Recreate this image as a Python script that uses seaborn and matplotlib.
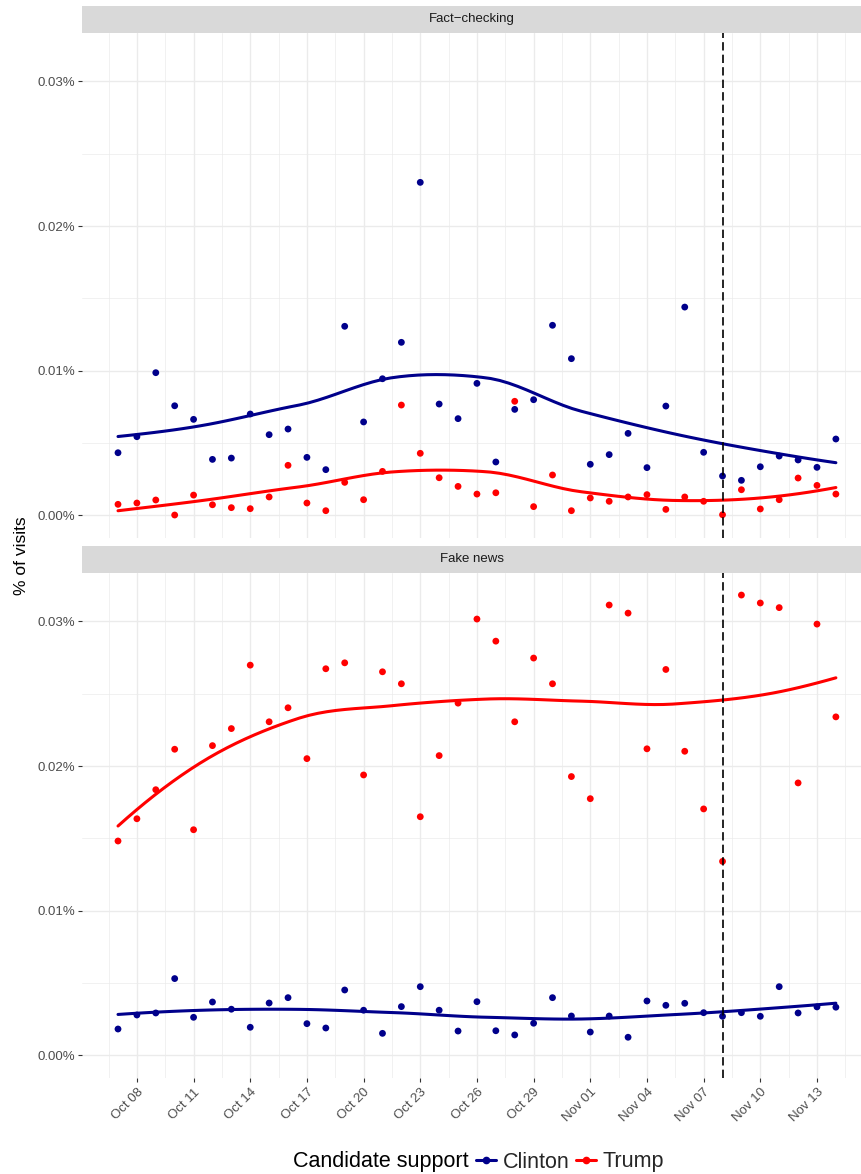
import numpy as np
import pandas as pd
import matplotlib
matplotlib.use("Agg")
import matplotlib.pyplot as plt
import matplotlib.dates as mdates
from matplotlib.lines import Line2D
from matplotlib.ticker import FixedLocator, FuncFormatter
import seaborn as sns

# daily share of visits (in %), Oct 7 - Nov 14 2016
dates = pd.date_range("2016-10-07", "2016-11-14", freq="D")

clinton_fact = [0.00431, 0.00542, 0.00985, 0.00756, 0.00662, 0.00385, 0.00394, 0.00699,
                0.00556, 0.00595, 0.00399, 0.00314, 0.01306, 0.00644, 0.00943, 0.01195,
                0.02302, 0.00768, 0.00667, 0.00911, 0.00367, 0.00731, 0.00798, 0.01313,
                0.01082, 0.00351, 0.00418, 0.00565, 0.00328, 0.00754, 0.01439, 0.00434,
                0.00270, 0.00240, 0.00334, 0.00408, 0.00381, 0.00330, 0.00526]
trump_fact = [0.00074, 0.00083, 0.00104, 0.00000, 0.00138, 0.00071, 0.00051, 0.00044,
              0.00125, 0.00344, 0.00083, 0.00030, 0.00226, 0.00106, 0.00302, 0.00761,
              0.00427, 0.00258, 0.00198, 0.00145, 0.00154, 0.00787, 0.00058, 0.00277,
              0.00030, 0.00118, 0.00095, 0.00125, 0.00141, 0.00039, 0.00125, 0.00095,
              0.00002, 0.00175, 0.00042, 0.00106, 0.00256, 0.00205, 0.00145]
clinton_fake = [0.00180, 0.00277, 0.00291, 0.00529, 0.00261, 0.00367, 0.00317, 0.00192,
                0.00360, 0.00397, 0.00217, 0.00187, 0.00450, 0.00310, 0.00150, 0.00335,
                0.00473, 0.00310, 0.00166, 0.00369, 0.00168, 0.00139, 0.00220, 0.00397,
                0.00270, 0.00159, 0.00270, 0.00123, 0.00374, 0.00344, 0.00358, 0.00293,
                0.00268, 0.00293, 0.00268, 0.00473, 0.00291, 0.00333, 0.00331]
trump_fake = [0.01481, 0.01635, 0.01836, 0.02116, 0.01559, 0.02141, 0.02259, 0.02698,
              0.02306, 0.02403, 0.02051, 0.02673, 0.02714, 0.01938, 0.02652, 0.02569,
              0.01649, 0.02072, 0.02435, 0.03017, 0.02864, 0.02306, 0.02747, 0.02569,
              0.01927, 0.01774, 0.03114, 0.03058, 0.02119, 0.02668, 0.02102, 0.01703,
              0.01340, 0.03183, 0.03128, 0.03096, 0.01883, 0.02982, 0.02340]

panels = ["Fact\u2212checking", "Fake news"]
candidates = ["Clinton", "Trump"]
colors = {"Clinton": "#00008B", "Trump": "#FF0000"}
election_day = pd.Timestamp("2016-11-08")

rows = []
for panel, series in zip(panels, [(clinton_fact, trump_fact), (clinton_fake, trump_fake)]):
    for cand, vals in zip(candidates, series):
        for d, v in zip(dates, vals):
            rows.append((panel, cand, d, v))
df = pd.DataFrame(rows, columns=["panel", "candidate", "date", "value"])


def local_fit(x, y, x0, q):
    # local quadratic with tricube weights -> value and slope at x0
    d = np.abs(x - x0)
    h = np.sort(d)[q - 1]
    w = np.clip(1 - (d / h) ** 3, 0, None) ** 3
    X = np.column_stack([np.ones(len(x)), x - x0, (x - x0) ** 2])
    sw = np.sqrt(w)
    beta = np.linalg.lstsq(X * sw[:, None], y * sw, rcond=None)[0]
    return beta[0], beta[1]


def kd_cuts(xs, fc):
    # median splits of the sorted x values until cells hold <= fc points
    if len(xs) <= fc:
        return []
    m = (len(xs) + 1) // 2
    t = (xs[m - 1] + xs[m]) / 2
    return kd_cuts(xs[:m], fc) + [t] + kd_cuts(xs[m:], fc)


def loess(x, y, grid, span=0.75):
    # R-style loess: exact fits at kd-tree vertices, cubic Hermite between them
    n = len(x)
    q = int(np.floor(n * span))
    fc = int(np.floor(n * span * 0.2))
    xs = np.sort(x)
    mu = 0.005 * (xs[-1] - xs[0])
    verts = np.array([xs[0] - mu] + kd_cuts(xs, fc) + [xs[-1] + mu])
    vals = np.array([local_fit(x, y, v, q) for v in verts])
    out = []
    for g in grid:
        j = min(np.searchsorted(verts, g, side="right") - 1, len(verts) - 2)
        x0, x1 = verts[j], verts[j + 1]
        hh = x1 - x0
        t = (g - x0) / hh
        h00 = 2 * t**3 - 3 * t**2 + 1
        h10 = t**3 - 2 * t**2 + t
        h01 = -2 * t**3 + 3 * t**2
        h11 = t**3 - t**2
        out.append(h00 * vals[j, 0] + h10 * hh * vals[j, 1]
                   + h01 * vals[j + 1, 0] + h11 * hh * vals[j + 1, 1])
    return np.array(out)


start = dates[0]
smooth_rows = []
for (panel, cand), g in df.groupby(["panel", "candidate"]):
    xd = (g["date"] - start).dt.days.values.astype(float)
    grid = np.linspace(xd.min(), xd.max(), 80)
    fit = loess(xd, g["value"].values, grid)
    for gx, fv in zip(grid, fit):
        smooth_rows.append((panel, cand, start + pd.Timedelta(days=gx), fv))
smooth = pd.DataFrame(smooth_rows, columns=["panel", "candidate", "date", "fit"])

sns.set_theme(style="white")
plt.rcParams["font.family"] = ["Liberation Sans", "DejaVu Sans"]

W, H = 861, 1174
fig = plt.figure(figsize=(W / 100, H / 100), dpi=100)

x_left = start - pd.Timedelta(days=1.906)
x_right = start + pd.Timedelta(days=39.33)
major_x = pd.date_range("2016-10-08", "2016-11-13", freq="3D")
minor_x = pd.date_range("2016-10-06 12:00", "2016-11-14 12:00", freq="3D")

panel_px = [(33, 538), (573, 1078)]
strip_px = [(6, 32.7), (546, 572.7)]
px_left = 82

for i, panel in enumerate(panels):
    top, bot = panel_px[i]
    ax = fig.add_axes([px_left / W, 1 - bot / H, (W - px_left) / W, (bot - top) / H])
    ax.set_facecolor("white")
    for s in ax.spines.values():
        s.set_visible(False)

    sub = df[df["panel"] == panel]
    sm = smooth[smooth["panel"] == panel]
    sns.lineplot(data=sm, x="date", y="fit", hue="candidate", palette=colors,
                 hue_order=candidates, linewidth=2.2, legend=False, ax=ax, zorder=3)
    sns.scatterplot(data=sub, x="date", y="value", hue="candidate", palette=colors,
                    hue_order=candidates, s=24, linewidth=0, legend=False, ax=ax, zorder=4)
    ax.axvline(election_day, color="black", linewidth=1.2, linestyle=(0, (5, 2.5)), zorder=5)

    ax.set_xlim(x_left, x_right)
    ax.set_ylim(-0.00159, 0.033356)
    ax.xaxis.set_major_locator(FixedLocator(mdates.date2num(major_x)))
    ax.xaxis.set_minor_locator(FixedLocator(mdates.date2num(minor_x)))
    ax.yaxis.set_major_locator(FixedLocator([0, 0.01, 0.02, 0.03]))
    ax.yaxis.set_minor_locator(FixedLocator([0.005, 0.015, 0.025]))
    ax.yaxis.set_major_formatter(FuncFormatter(lambda v, p: f"{v:.2f}%"))
    ax.grid(which="major", color="#EBEBEB", linewidth=1.0, zorder=0)
    ax.grid(which="minor", color="#EBEBEB", linewidth=0.5, zorder=0)
    ax.set_axisbelow(True)
    ax.set_xlabel("")
    ax.set_ylabel("")
    ax.tick_params(axis="y", which="major", length=3, width=0.8, color="#333333",
                   labelcolor="#4D4D4D", labelsize=9.5, pad=2, left=True)
    ax.tick_params(axis="y", which="minor", length=0)
    ax.tick_params(axis="x", which="minor", length=0)
    if i == 0:
        ax.tick_params(axis="x", which="major", length=0, labelbottom=False)
    else:
        ax.xaxis.set_major_formatter(mdates.DateFormatter("%b %d"))
        ax.tick_params(axis="x", which="major", length=3, width=0.8, color="#333333",
                       labelcolor="#4D4D4D", labelsize=9.5, pad=3, bottom=True)
        for lab in ax.get_xticklabels():
            lab.set_rotation(45)
            lab.set_ha("right")
            lab.set_va("top")
            lab.set_rotation_mode("anchor")

    st, sb = strip_px[i]
    sax = fig.add_axes([px_left / W, 1 - sb / H, (W - px_left) / W, (sb - st) / H])
    sax.set_facecolor("#D9D9D9")
    sax.set_xticks([])
    sax.set_yticks([])
    for s in sax.spines.values():
        s.set_visible(False)
    sax.text(0.5, 0.5, panel, ha="center", va="center", fontsize=9.5,
             color="#1A1A1A", transform=sax.transAxes)

fig.text(22 / W, 1 - 556 / H, "% of visits", rotation=90, ha="center", va="center",
         fontsize=12.5, color="black")

legend_y = 1 - 1162 / H
fig.text(293 / W, legend_y, "Candidate support", ha="left", va="center",
         fontsize=15.5, color="black")
handles = [Line2D([0], [0], color=colors[c], linewidth=2.2, marker="o", markersize=4.5)
           for c in candidates]
fig.legend(handles, candidates, loc="center left", bbox_to_anchor=(476 / W, legend_y),
           ncol=2, frameon=False, fontsize=15.5, handlelength=0.95, handletextpad=0.28,
           columnspacing=0.3, borderpad=0, borderaxespad=0)

fig.savefig("out.png", dpi=100)
